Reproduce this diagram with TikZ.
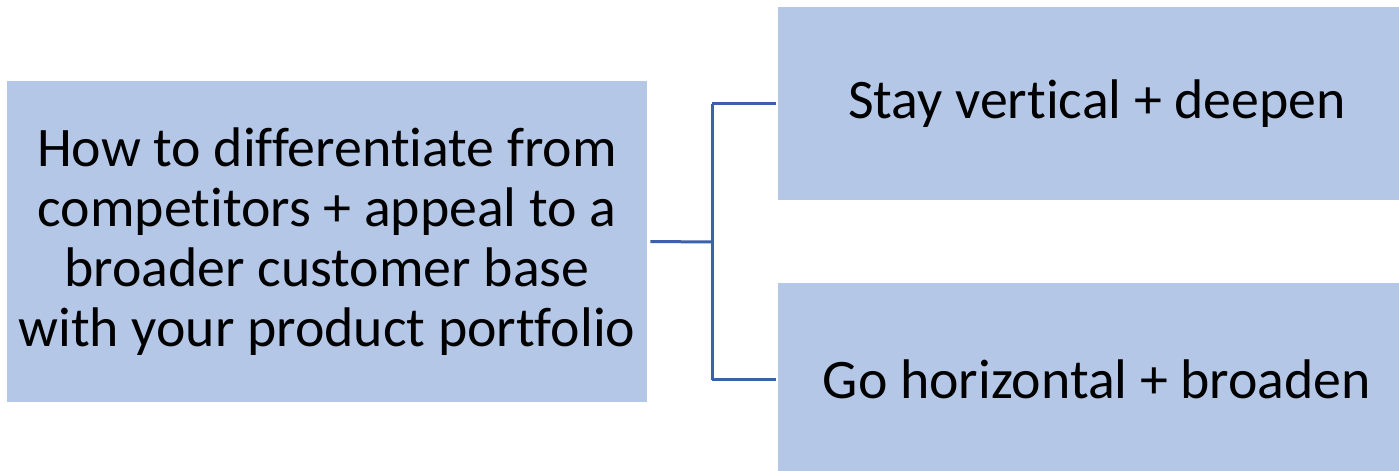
\documentclass[tikz,border=0pt]{standalone}
\usepackage{fontspec}
\setmainfont{Carlito}[Ligatures={NoCommon,NoContextual}]
\definecolor{boxfill}{HTML}{B4C7E7}
\definecolor{linkblue}{HTML}{3C61A8}
\begin{document}
\begin{tikzpicture}[x=0.5pt,y=-0.5pt,
  card/.style={fill=boxfill, draw=none, inner sep=0pt, align=center,
    font=\fontsize{27.9}{30}\selectfont},
  link/.style={draw=linkblue, line width=1.5pt}]
\useasboundingbox (0,0) rectangle (1399,471);
\clip (0,0) rectangle (1399,471);
% question box
\node[card, minimum width=320pt, minimum height=160.5pt] (q) at (327,241.5)
  {How to differentiate from\\competitors + appeal to a\\broader customer base\\with your product portfolio};
% two strategy boxes
\node[card, minimum width=319pt, minimum height=96.5pt] (v) at (1097,103.5) {Stay vertical + deepen};
\node[card, minimum width=319pt, minimum height=96.5pt] (h) at (1097,379.5) {Go horizontal + broaden};
% bracket connector
\coordinate (fork) at (712,242);
\draw[link] ([xshift=1.5pt]q.east) -- (fork);
\draw[link] (fork |- v.west) -- ([xshift=-1pt]v.west);
\draw[link] (fork |- h.west) -- ([xshift=-1pt]h.west);
\draw[link] (fork |- v.west) -- (fork |- h.west);
\end{tikzpicture}
\end{document}
